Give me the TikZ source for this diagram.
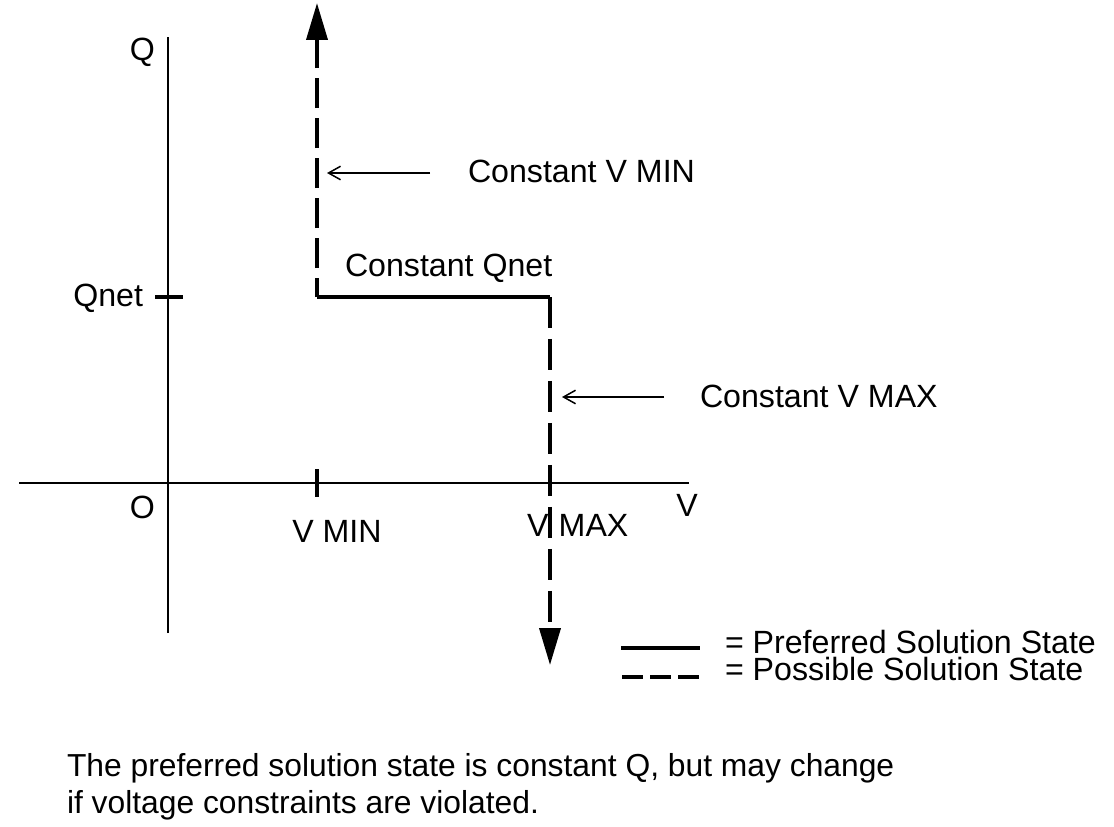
\documentclass[tikz,border=0pt]{standalone}
\usepackage{fontspec}
\setmainfont{Liberation Sans}
\usetikzlibrary{arrows.meta}
\begin{document}
\begin{tikzpicture}[x=0.02cm,y=-0.02cm,
  every node/.style={inner sep=0pt, outer sep=0pt, font=\fontsize{18.3}{22}\selectfont},
  axis/.style={line width=0.04cm},
  tick/.style={line width=0.065cm},
  pref/.style={line width=0.07cm},
  poss/.style={line width=0.075cm},
  bigtip/.style={-{Triangle[length=0.74cm,width=0.42cm]}},
  pointer/.style={line width=0.03cm,-{Straight Barb[length=0.24cm,width=0.27cm]}}]
\useasboundingbox (0,0) rectangle (1114,827);
% key points
\coordinate (yb) at (168,633);
\coordinate (yt) at (168,37);
\coordinate (xl) at (19,483);
\coordinate (xr) at (689,483);
\coordinate (qa) at (155,297);
\coordinate (qb) at (183,297);
\coordinate (va) at (317,469);
\coordinate (vb) at (317,497);
\coordinate (c1) at (317,297);
\coordinate (c2) at (550,297);
\coordinate (top) at (317,3);
\coordinate (bot) at (550,665);
\coordinate (p1s) at (430,173);
\coordinate (p1e) at (327,173);
\coordinate (p2s) at (664,397);
\coordinate (p2e) at (562,397);
\coordinate (l1a) at (621,648);
\coordinate (l1b) at (700,648);
\coordinate (l2a) at (622,677);
\coordinate (l2b) at (700,677);
% labels
\node[anchor=base east] (lQ) at (155,61) {Q};
\node[anchor=base east] (lQnet) at (143,306) {Qnet};
\node[anchor=base east] (lO) at (155,518) {O};
\node[anchor=base] (lVmin) at (337,542) {V MIN};
\node[anchor=base west] (lVmax) at (527,536) {V\hspace{0.32em}MAX};
\node[anchor=base] (lV) at (687,516) {V};
\node[anchor=base west] (lCQ) at (345,276) {Constant Qnet};
\node[anchor=base west] (lCVmin) at (468,183) {Constant V MIN};
\node[anchor=base west] (lCVmax) at (700,407) {Constant V MAX};
\node[anchor=base west,text depth=0pt] (lg1) at (725,653) {= Preferred Solution State};
\node[anchor=base west,text height=0.68em] (lg2) at (725,680) {= Possible Solution State};
\node[anchor=base west,font=\fontsize{18.1}{22}\selectfont] (cap1) at (67,776) {The preferred solution state is constant Q, but may change};
\node[anchor=base west,font=\fontsize{18.1}{22}\selectfont] (cap2) at (67,813) {if voltage constraints are violated.};
% axes
\draw[axis] (yb) -- (yt);
\draw[axis] (xl) -- (xr);
\draw[tick] (qa) -- (qb);
\draw[tick] (va) -- (vb);
% solution path
\draw[pref] (c1) -- (c2);
\draw[poss,bigtip,dash pattern=on 0.6cm off 0.2cm,dash phase=0.22cm] (c1) -- (top);
\draw[poss,bigtip,dash pattern=on 0.62cm off 0.22cm] (c2) -- (bot);
% pointers
\draw[pointer] (p1s) -- (p1e);
\draw[pointer] (p2s) -- (p2e);
% legend
\draw[pref] (l1a) -- (l1b);
\draw[poss,dash pattern=on 0.42cm off 0.14cm] (l2a) -- (l2b);
\end{tikzpicture}
\end{document}
